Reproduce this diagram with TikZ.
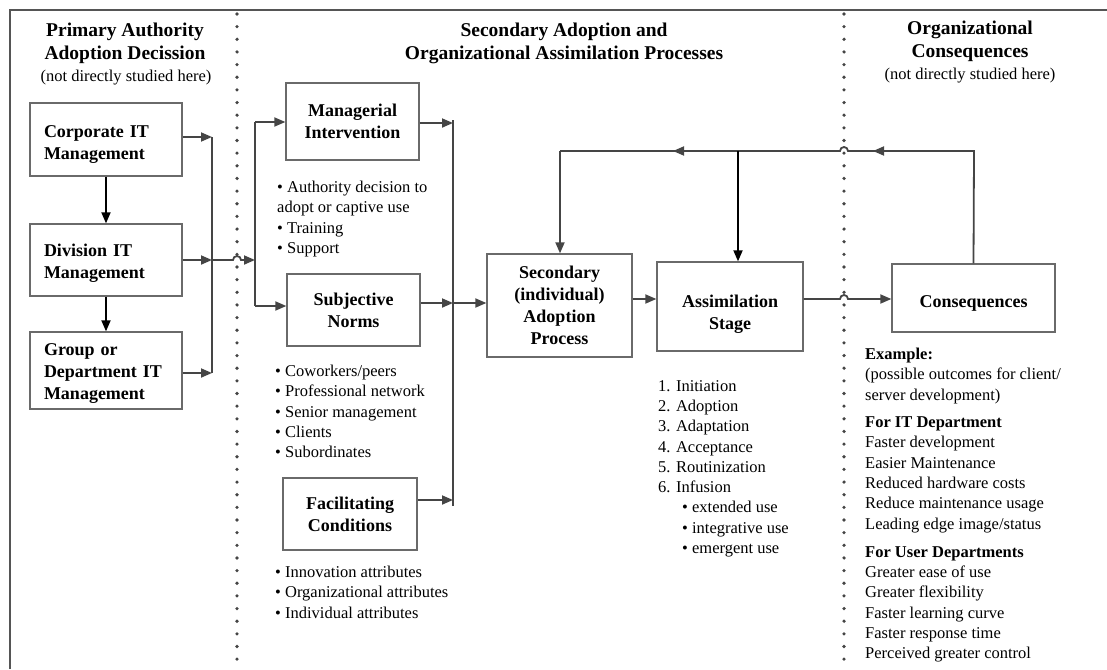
\documentclass[tikz,border=0pt]{standalone}
\usepackage{fontspec}
\setmainfont{Liberation Serif}
\usetikzlibrary{arrows.meta,calc}
\definecolor{ln}{HTML}{454545}
\definecolor{bx}{HTML}{6A6A6A}
\definecolor{frm}{HTML}{555555}
\begin{document}
\begin{tikzpicture}[x=1pt,y=-1pt,
  box/.style={draw=bx, line width=1.3pt, font=\bfseries\fontsize{18}{22}\selectfont, align=center, inner sep=0pt},
  lbox/.style={box, align=left, text width=124pt, inner xsep=14pt},
  hdr/.style={font=\bfseries\fontsize{19.5}{23}\selectfont, align=center, inner sep=0pt},
  sm/.style={font=\fontsize{16.5}{20}\selectfont, inner sep=0pt},
  lst/.style={font=\fontsize{16.5}{20.3}\selectfont, align=left, anchor=north west, inner sep=0pt},
  arr/.style={draw=ln, line width=1.8pt, -{Triangle[length=11pt,width=9pt]}},
  barr/.style={draw=black, line width=1.8pt, -{Triangle[length=11pt,width=9pt]}},
  bus/.style={draw=ln, line width=1.8pt},
  dots/.style={draw=ln, line width=3.6pt, line cap=round, dash pattern=on 0pt off 12.65pt}
]
\useasboundingbox (0,0) rectangle (1107,669);
% frame
\draw[frm, line width=2.8pt] (10,669) -- (10,10) -- (1107,10);
% dotted separators
\coordinate (d1t) at (237,14); \coordinate (d1b) at (237,669);
\coordinate (d2t) at (844,14); \coordinate (d2b) at (844,669);
\draw[dots] (d1t) -- (d1b);
\draw[dots] (d2t) -- (d2b);

% headers
\node[hdr] (h1) at (125,43) {Primary Authority\\Adoption Decission};
\node[sm] (h1s) at (126,78) {(not directly studied here)};
\node[hdr] (h2) at (564,43) {Secondary Adoption and\\Organizational Assimilation Processes};
\node[hdr] (h3) at (970,41) {Organizational\\Consequences};
\node[sm] (h3s) at (970,76) {(not directly studied here)};

% boxes
\node[lbox, minimum height=73pt, text height=21pt] (corp) at (106,139.5) {Corporate IT\\Management};
\node[lbox, minimum height=72pt, text height=18pt] (div) at (106,260) {Division IT\\Management};
\node[lbox, minimum height=77pt, text height=17pt] (grp) at (106,370.5) {Group or\\Department IT\\Management};
\node[box, minimum width=133pt, minimum height=77pt] (mgr) at (352.5,121.5) {Managerial\\Intervention};
\node[box, minimum width=133pt, minimum height=72pt] (sub) at (353.5,310) {Subjective\\Norms};
\node[box, minimum width=134pt, minimum height=72pt] (fac) at (350,514) {Facilitating\\Conditions};
\node[box, minimum width=145pt, minimum height=103pt] (sec) at (559.5,305.5) {Secondary\\(individual)\\Adoption\\Process};
\node[box, minimum width=146pt, minimum height=89pt, text height=49pt] (asm) at (730,306.5) {Assimilation\\Stage};
\node[box, minimum width=163pt, minimum height=68pt, text height=22pt] (con) at (973.5,298) {Consequences};

% lists
\node[lst] (l1) at (277,181) {• Authority decision to\\adopt or captive use\\• Training\\• Support};
\node[lst] (l2) at (275,365) {• Coworkers/peers\\• Professional network\\• Senior management\\• Clients\\• Subordinates};
\node[lst] (l3) at (275,566) {• Innovation attributes\\• Organizational attributes\\• Individual attributes};
\node[lst] (l4) at (658,380) {1. Initiation\\2. Adoption\\3. Adaptation\\4. Acceptance\\5. Routinization\\6. Infusion\\\hspace*{24pt}• extended use\\\hspace*{24pt}• integrative use\\\hspace*{24pt}• emergent use};
\node[lst] (l5) at (865,348) {\textbf{Example:}\\(possible outcomes for client/\\server development)\\[7pt]\textbf{For IT Department}\\Faster development\\Easier Maintenance\\Reduced hardware costs\\Reduce maintenance usage\\Leading edge image/status\\[8pt]\textbf{For User Departments}\\Greater ease of use\\Greater flexibility\\Faster learning curve\\Faster response time\\Perceived greater control};

% bus coordinates
\coordinate (b1a) at (212,137); \coordinate (b1m) at (212,260); \coordinate (b1b) at (212,373);
\coordinate (hop1) at (233,260);
\coordinate (b2a) at (255,122); \coordinate (b2m) at (255,260); \coordinate (b2b) at (255,306);
\coordinate (b3a) at (453,120); \coordinate (b3m) at (453,123); \coordinate (b3s) at (453,303);
\coordinate (b3f) at (453,500); \coordinate (b3b) at (453,506);
\coordinate (y299) at (0,299);
\coordinate (hop2) at (840,299);
\coordinate (fbR) at (974,151); \coordinate (fbL) at (560,151); \coordinate (fbM) at (738,151);
\coordinate (hop3) at (848,151);
\coordinate (fa1) at (873,151); \coordinate (fa2) at (673,151);

% left column
\draw[barr] (corp) -- (div);
\draw[barr] (div) -- (grp);
\draw[arr] (corp.east |- b1a) -- (b1a);
\draw[arr] (div.east |- b1m) -- (b1m);
\draw[arr] (grp.east |- b1b) -- (b1b);
\draw[bus] (b1a) -- (b1b);
\draw[arr] (b1m) -- (hop1) arc[start angle=180, end angle=0, radius=4pt] -- (b2m);
\draw[bus] (b2a) -- (b2b);
\draw[arr] (b2a) -- (mgr.west |- b2a);
\draw[arr] (b2b) -- (sub.west |- b2b);
% middle
\draw[arr] (mgr.east |- b3m) -- (b3m);
\draw[arr] (sub.east |- b3s) -- (b3s);
\draw[arr] (fac.east |- b3f) -- (b3f);
\draw[bus] (b3a) -- (b3b);
\draw[arr] (b3s) -- (sec.west |- b3s);
\draw[arr] (sec.east |- y299) -- (asm.west |- y299);
\draw[arr] (asm.east |- y299) -- (hop2) arc[start angle=180, end angle=0, radius=4pt] -- (con.west |- y299);
% feedback
\draw[bus] (con.north) -- (fbR) -- (hop3) arc[start angle=0, end angle=180, radius=4pt] -- (fbL);
\draw[arr] (fbR) -- (fa1);
\draw[arr] (fbM) -- (fa2);
\draw[arr] (fbL) -- (sec.north -| fbL);
\draw[barr] (fbM) -- (asm.north -| fbM);
\end{tikzpicture}
\end{document}
